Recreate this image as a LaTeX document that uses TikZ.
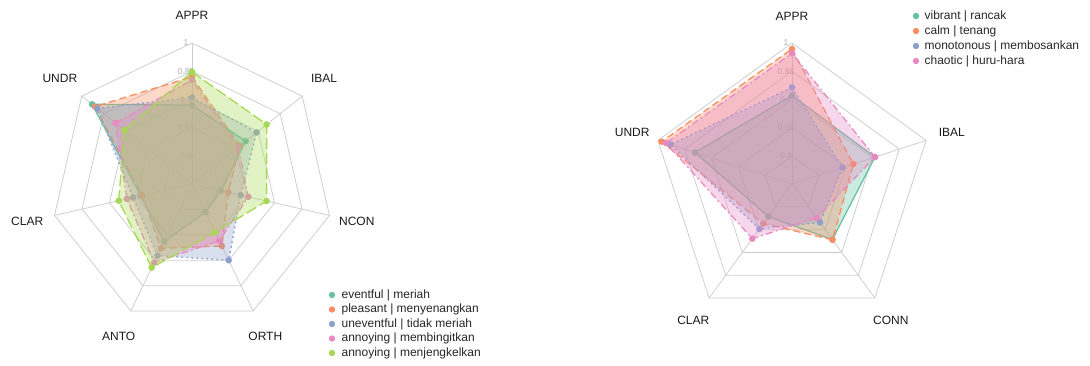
\documentclass[tikz,border=0pt]{standalone}
\usepackage{fontspec}
\setmainfont{Liberation Sans}
\usetikzlibrary{calc,positioning}

\definecolor{gridgray}{HTML}{CCCCCC}
\definecolor{tickgray}{HTML}{ADADAD}
\definecolor{sgreen}{HTML}{66C2A5}
\definecolor{sorange}{HTML}{FC8D62}
\definecolor{sblue}{HTML}{8DA0CB}
\definecolor{spink}{HTML}{E78AC3}
\definecolor{slime}{HTML}{A6D854}

\tikzset{
  gridline/.style={draw=gridgray, line width=0.75pt},
  ticklabel/.style={text=tickgray, font=\fontsize{8.5}{9}\selectfont, inner sep=0pt},
  axislabel/.style={font=\fontsize{12}{14}\selectfont, text=black!90},
  legendtext/.style={font=\fontsize{12}{14}\selectfont, text=black!85, anchor=west, inner sep=0pt},
  keydot/.style={circle, inner sep=0pt, minimum size=6.4pt},
  series/.style={line width=1.3pt, line join=round, fill opacity=0.34},
  solidline/.style={},
  dashline/.style={dash pattern=on 7pt off 4pt},
  dotline/.style={dash pattern=on 1.8pt off 3.2pt},
  dotdashline/.style={dash pattern=on 1.8pt off 3.2pt on 7pt off 3.2pt},
  longdashline/.style={dash pattern=on 11pt off 4pt},
}

% radar grid: centre, number of axes
\newcommand{\radargrid}[2]{%
  \foreach \lev in {0.4,0.55,0.7,0.85,1} {
    \pgfmathsetmacro\rr{(\lev-0.25)*188}
    \draw[gridline] ($(#1)+(90:\rr)$)
      \foreach \j in {2,...,#2} { -- ($(#1)+({90-(\j-1)*360/#2}:\rr)$) } -- cycle;
  }
  \foreach \j in {1,...,#2}
    \draw[gridline] (#1) -- ($(#1)+({90-(\j-1)*360/#2}:141)$);
}

% one data series: centre, number of axes, colour, line style, values
\newcommand{\radarseries}[5]{%
  \foreach \v [count=\i] in {#5} {
    \pgfmathsetmacro\rr{(\v-0.25)*188}
    \coordinate (p\i) at ($(#1)+({90-(\i-1)*360/#2}:\rr)$);
  }
  \path[series, draw=#3, fill=#3, #4] (p1) \foreach \i in {2,...,#2} { -- (p\i) } -- cycle;
  \foreach \i in {1,...,#2}
    \fill[#3] (p\i) circle (3.3pt);
}

\begin{document}
\begin{tikzpicture}[x=1pt,y=1pt]
\useasboundingbox (0,0) rectangle (1090,365);

\coordinate (cl) at (192,181);
\coordinate (cr) at (792,181);

% Grids
\radargrid{cl}{7}
\radargrid{cr}{5}

% Ring values
\foreach \lev/\txt in {0.4/0.4,0.55/0.55,0.7/0.7,0.85/0.85,1/1} {
  \pgfmathsetmacro\rr{(\lev-0.25)*188}
  \node[ticklabel] (tl-\txt) at ($(cl)+(-6,\rr)$) {\txt};
  \node[ticklabel] (tr-\txt) at ($(cr)+(-6,\rr)$) {\txt};
}

% Left chart: APPR, IBAL, NCON, ORTH, ANTO, CLAR, UNDR
\radarseries{cl}{7}{sgreen}{solidline}{0.67,0.615,0.408,0.417,0.59,0.53,0.93}
\radarseries{cl}{7}{sorange}{dashline}{0.82,0.575,0.448,0.616,0.63,0.522,0.91}
\radarseries{cl}{7}{sblue}{dotline}{0.71,0.69,0.516,0.70,0.673,0.572,0.895}
\radarseries{cl}{7}{spink}{dotdashline}{0.803,0.565,0.557,0.585,0.714,0.605,0.77}
\radarseries{cl}{7}{slime}{longdashline}{0.846,0.758,0.657,0.535,0.744,0.65,0.71}

% Right chart: APPR, IBAL, CONN, CLAR, UNDR
\radarseries{cr}{5}{sgreen}{solidline}{0.72,0.714,0.615,0.464,0.793}
\radarseries{cr}{5}{sorange}{dashline}{0.968,0.593,0.617,0.51,0.979}
\radarseries{cr}{5}{sblue}{dotline}{0.764,0.533,0.503,0.546,0.93}
\radarseries{cr}{5}{spink}{dotdashline}{0.945,0.714,0.473,0.609,0.955}

% Axis labels
\foreach \lab [count=\j] in {APPR,IBAL,NCON,ORTH,ANTO,CLAR,UNDR}
  \node[axislabel] (al-\lab) at ($(cl)+({90-(\j-1)*360/7}:169)$) {\lab};
\foreach \lab [count=\j] in {APPR,IBAL,CONN,CLAR,UNDR}
  \node[axislabel] (ar-\lab) at ($(cr)+({90-(\j-1)*360/5}:168)$) {\lab};

% Legends
\foreach \col/\txt [count=\k] in {sgreen/eventful | meriah, sorange/pleasant | menyenangkan,
    sblue/uneventful | tidak meriah, spink/annoying | membingitkan, slime/annoying | menjengkelkan} {
  \node[keydot, fill=\col] (kl-\k) at (332,{84.5-\k*14.5}) {};
  \node[legendtext, right=6pt of kl-\k] (tl-\k) {\txt};
}
\foreach \col/\txt [count=\k] in {sgreen/vibrant | rancak, sorange/calm | tenang,
    sblue/monotonous | membosankan, spink/chaotic | huru-hara} {
  \node[keydot, fill=\col] (kr-\k) at (916,{364-\k*15}) {};
  \node[legendtext, right=5pt of kr-\k] (tr-\k) {\txt};
}

\end{tikzpicture}
\end{document}
